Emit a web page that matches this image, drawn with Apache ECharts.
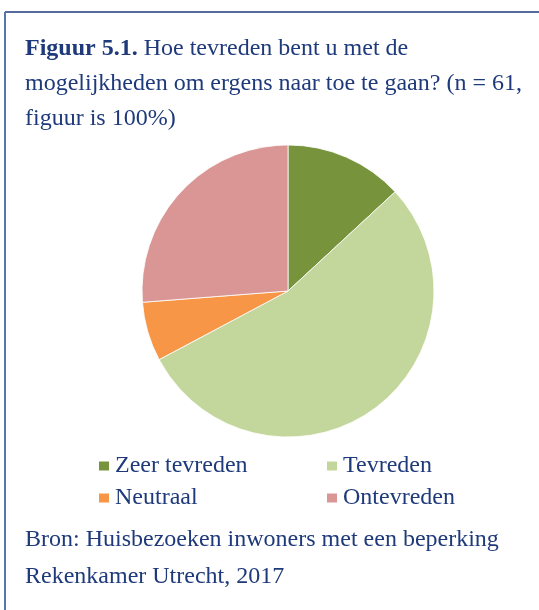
<!DOCTYPE html>
<html lang="nl">
<head>
  <meta charset="UTF-8">
  <title>Figuur 5.1</title>
  <script src="https://cdn.jsdelivr.net/npm/echarts@6/dist/echarts.min.js"></script>
</head>
<body style="margin:0;background:#fff;">
<div id="box" style="width:539px;height:610px;"></div>
<script>
  // categorieen en aantallen (n = 61)
  var categories = ['Zeer tevreden', 'Tevreden', 'Neutraal', 'Ontevreden'];
  var counts = [8, 33, 4, 16];
  var colors = ['#77933c', '#c3d69b', '#f79646', '#d99694'];

  var navy = '#1f3a7a';
  var serif = '"Liberation Serif", "Times New Roman", serif';

  var myChart = echarts.init(document.getElementById('box'));

  var legendText = {color: navy, fontFamily: serif, fontSize: 24};

  var option = {
    backgroundColor: '#fff',
    title: {
      left: 20,
      top: 26,
      text: '{b|Figuur 5.1.} Hoe tevreden bent u met de\nmogelijkheden om ergens naar toe te gaan? (n = 61,\nfiguur is 100%)',
      textStyle: {
        color: navy, fontFamily: serif, fontSize: 24, fontWeight: 'normal', lineHeight: 35,
        rich: {
          b: {color: navy, fontFamily: serif, fontSize: 24, fontWeight: 'bold', lineHeight: 35}
        }
      }
    },
    legend: [{
      orient: 'vertical',
      left: 92,
      top: 449,
      itemWidth: 12,
      itemHeight: 11,
      itemGap: 8,
      icon: 'rect',
      data: [categories[0], categories[2]],
      textStyle: legendText
    }, {
      orient: 'vertical',
      left: 320,
      top: 449,
      itemWidth: 12,
      itemHeight: 11,
      itemGap: 8,
      icon: 'rect',
      data: [categories[1], categories[3]],
      textStyle: legendText
    }],
    graphic: [
      {type: 'line', shape: {x1: 5, y1: 12, x2: 539, y2: 12}, style: {stroke: '#1f3a7a', lineWidth: 1.5}},
      {type: 'line', shape: {x1: 5, y1: 12, x2: 5, y2: 610}, style: {stroke: '#5a74a8', lineWidth: 2}},
      {
        type: 'text', left: 25, top: 521,
        style: {
          text: 'Bron: Huisbezoeken inwoners met een beperking\nRekenkamer Utrecht, 2017',
          fill: navy, font: '24px ' + serif, lineHeight: 37
        }
      }
    ],
    series: [{
      name: 'Tevredenheid',
      type: 'pie',
      center: [288, 291],
      radius: 146,
      startAngle: 90,
      clockwise: true,
      label: {show: false},
      labelLine: {show: false},
      itemStyle: {borderColor: '#fff', borderWidth: 0.8},
      data: categories.map(function (c, i) {
        return {name: c, value: counts[i], itemStyle: {color: colors[i]}};
      })
    }]
  };

  myChart.setOption(option);
</script>
</body>
</html>
